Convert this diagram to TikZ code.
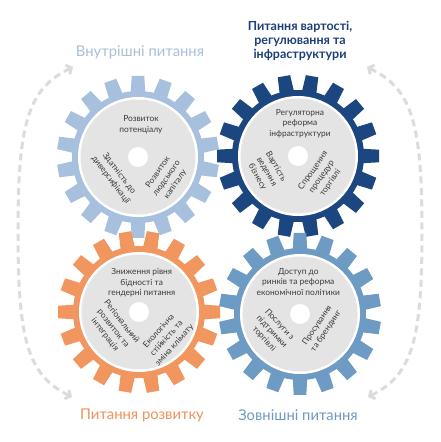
\documentclass[tikz,border=0pt]{standalone}
\usepackage{fontspec}
\setmainfont{Lato}
\usetikzlibrary{arrows.meta}
\definecolor{cTL}{HTML}{A6C0DD}
\definecolor{cTR}{HTML}{1C4680}
\definecolor{cBL}{HTML}{F29660}
\definecolor{cBR}{HTML}{6E9BC4}
\definecolor{tTL}{HTML}{A9BFDB}
\definecolor{tTR}{HTML}{1D3F78}
\definecolor{tBL}{HTML}{F0925A}
\definecolor{tBR}{HTML}{6D9AC2}
\definecolor{discgray}{HTML}{E4E4E4}
\definecolor{gtextc}{HTML}{3A3A3A}
\definecolor{arcgray}{HTML}{DCDCDC}
\newcommand\drawmygear[3]{%
  \begin{scope}[shift={#1}]
    \fill[#2] (0,0) circle (66);
    \foreach \a in {0,20,...,340}{
      \fill[#2, rotate={\a+#3}] (58,-7.6) -- (81,-6.3) -- (81,6.3) -- (58,7.6) -- cycle;
    }
    \fill[white] (0,0) circle (60);
    \fill[discgray] (0,0) circle (57.5);
    \fill[white] (0,0) circle (10);
  \end{scope}}
\tikzset{
  gtext/.style={align=center, text=gtextc, inner sep=0pt, font=\fontsize{8.4}{10.6}\selectfont},
  ttl/.style={align=center, inner sep=0pt, font=\fontsize{14.8}{16}\selectfont},
  cyclearc/.style={draw=arcgray, line width=3pt, dash pattern=on 7pt off 4.5pt,
    {Straight Barb[length=4pt,width=10pt]}-{Straight Barb[length=4pt,width=10pt]}}
}
\begin{document}
\begin{tikzpicture}[x=1pt,y=1pt]
\fill[white] (0,0) rectangle (440,442);
\useasboundingbox (0,0) rectangle (440,442);
% cycle arcs
\coordinate (la) at (72,45);
\coordinate (lb) at (73,375);
\coordinate (ra) at (368,45);
\coordinate (rb) at (367,375);
\draw[cyclearc] (la) .. controls (28,67) and (18,100) .. (18,210) .. controls (18,320) and (28,353) .. (lb);
\draw[cyclearc] (ra) .. controls (412,67) and (422,100) .. (422,210) .. controls (422,320) and (412,353) .. (rb);
% gears
\drawmygear{(138,285)}{cTL}{10}
\drawmygear{(298,286)}{cTR}{0}
\drawmygear{(139,130)}{cBL}{0}
\drawmygear{(300,128)}{cBR}{10}
% gear texts
\node[gtext] (tl1) at (141,317) {Розвиток\\потенціалу};
\node[gtext, rotate=-53] (tl2) at (115,265.3) {Здатність до\\диверсифікації};
\node[gtext, rotate=55] (tl3) at (166.7,263.7) {Розвиток\\людського\\капіталу};
\node[gtext] (tr1) at (300,318.5) {Регуляторна\\реформа\\інфраструктури};
\node[gtext, rotate=-60] (tr2) at (266.7,270.3) {Вартість\\ведення\\бізнесу};
\node[gtext, rotate=55] (tr3) at (321.7,265.3) {Спрощення\\процедур\\торгівлі};
\node[gtext] (bl1) at (141.7,159) {Зниження рівня\\бідності та\\гендерні питання};
\node[gtext, rotate=-52] (bl2) at (113.3,113.7) {Регіональний\\розвиток та\\інтеграція};
\node[gtext, rotate=48] (bl3) at (166.7,103.7) {Екологічна\\стійкість та\\зміна клімату};
\node[gtext] (br1) at (298.3,160.3) {Доступ до\\ринків та реформа\\економічної політики};
\node[gtext, rotate=-47] (br2) at (271.7,110.3) {Послуги з\\підтримки\\торгівлі};
\node[gtext, rotate=56] (br3) at (321.7,113.7) {Просування\\та брендинг};
% titles
\node[ttl, text=tTL] (t1) at (140,390) {Внутрішні питання};
\node[ttl, text=tTR, font=\fontsize{12.5}{14}\selectfont\bfseries] (t2) at (300,401) {Питання вартості,\\регулювання та\\інфраструктури};
\node[ttl, text=tBL] (t3) at (142,27) {Питання розвитку};
\node[ttl, text=tBR] (t4) at (298,27) {Зовнішні питання};
\end{tikzpicture}
\end{document}
